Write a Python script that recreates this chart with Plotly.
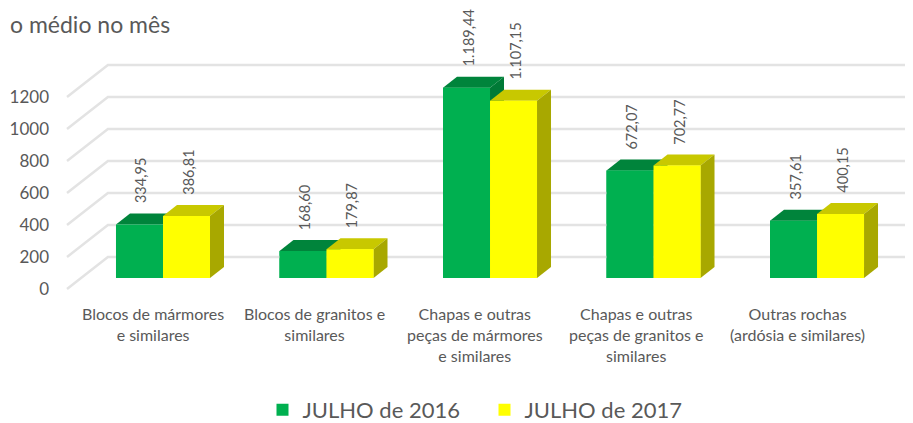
import plotly.graph_objects as go

# =============================================================================
# Data
# =============================================================================
categories = [
    "Blocos de mármores<br>e similares",
    "Blocos de granitos e<br>similares",
    "Chapas e outras<br>peças de mármores<br>e similares",
    "Chapas e outras<br>peças de granitos e<br>similares",
    "Outras rochas<br>(ardósia e similares)",
]
series_names = ["JULHO de 2016", "JULHO de 2017"]
jul_2016 = [334.95, 168.60, 1189.44, 672.07, 357.61]
jul_2017 = [386.81, 179.87, 1107.15, 702.77, 400.15]
y_ticks = [0, 200, 400, 600, 800, 1000, 1200]
title_text = "o médio no mês"

# =============================================================================
# Style / fake 3D geometry (in axis units)
# =============================================================================
BAR_W = 0.2875       # width of one bar
DEPTH_X = 0.0856     # bar depth, horizontal part
DEPTH_Y = 68.75      # bar depth, vertical part
FLOOR_FRONT = -68.75  # front edge of the floor, relative to bar base
WALL_X = 0.25        # floor depth, horizontal part
WALL_Y = 200.0       # floor depth, vertical part
FLOOR_LEFT = -0.587

colors = {
    "front": ["#00B050", "#FFFF00"],
    "top": ["#00843B", "#C8C800"],
    "side": ["#007A36", "#A8A800"],
}
txt = "#595959"
FONT = "Lato"


def fmt_br(v):
    s = f"{v:,.2f}"
    return s.replace(",", "X").replace(".", ",").replace("X", ".")


def poly(xs, ys, color):
    return go.Scatter(x=xs + [xs[0]], y=ys + [ys[0]], fill="toself", mode="lines",
                      line=dict(width=0, color=color), fillcolor=color,
                      showlegend=False, hoverinfo="skip")


fig = go.Figure()

# front faces as real bars (they also give the legend entries)
values = [jul_2016, jul_2017]
for s, vals in enumerate(values):
    fig.add_bar(x=list(range(len(categories))), y=vals, name=series_names[s],
                marker=dict(color=colors["front"][s], line=dict(width=0)))

# gridlines drawn in perspective: front edge -> back wall -> right
for v in y_ticks:
    fig.add_scatter(x=[FLOOR_LEFT, FLOOR_LEFT + WALL_X, 4.7],
                    y=[v + FLOOR_FRONT, v + FLOOR_FRONT + WALL_Y, v + FLOOR_FRONT + WALL_Y],
                    mode="lines", line=dict(color="#E3E3E3", width=2.5),
                    showlegend=False, hoverinfo="skip")

# faces of each box, back to front (front redrawn over the gridlines)
for i in range(len(categories)):
    for s, vals in enumerate(values):
        v = vals[i]
        xl = i - BAR_W + s * BAR_W
        xr = xl + BAR_W
        fig.add_trace(poly([xl, xl + DEPTH_X, xr + DEPTH_X, xr],
                           [v, v + DEPTH_Y, v + DEPTH_Y, v], colors["top"][s]))
        fig.add_trace(poly([xr, xr + DEPTH_X, xr + DEPTH_X, xr],
                           [0, DEPTH_Y, v + DEPTH_Y, v], colors["side"][s]))
        fig.add_trace(poly([xl, xr, xr, xl], [0, 0, v, v], colors["front"][s]))

# value labels
for s, vals in enumerate(values):
    for i, v in enumerate(vals):
        fig.add_annotation(x=i - BAR_W / 2 + s * BAR_W + 0.01, y=v, text=fmt_br(v),
                           textangle=-90, showarrow=False, yanchor="bottom", yshift=19,
                           font=dict(family=FONT, size=14.5, color=txt))

# category labels (shifted left a bit more towards the right: perspective)
for i, c in enumerate(categories):
    fig.add_annotation(x=i - 0.06 - 0.015 * i, y=0, yref="paper", text=c,
                       showarrow=False, yanchor="top", yshift=-2, align="center",
                       font=dict(family=FONT, size=16, color=txt))

# title
fig.add_annotation(x=-0.056, xref="paper", y=1.043, yref="paper", text=title_text,
                   showarrow=False, xanchor="left", yanchor="top",
                   font=dict(family=FONT, size=23, color=txt))

# the page body adds 8px around the figure, so the figure is 8px smaller
fig.update_layout(
    width=905, height=415,
    margin=dict(l=48, r=0, t=12, b=123, autoexpand=False),
    paper_bgcolor="white", plot_bgcolor="white",
    barmode="group", bargap=0.425, bargroupgap=0,
    showlegend=True,
    legend=dict(orientation="h", x=0.5, xanchor="center", y=-0.393, yanchor="middle",
                font=dict(family=FONT, size=22, color=txt), itemclick=False,
                entrywidth=177),
    xaxis=dict(range=[-0.6544, 4.587], showgrid=False, zeroline=False,
               showticklabels=False, fixedrange=True),
    yaxis=dict(range=[-137.5, 1612.5], showgrid=False, zeroline=False,
               tickvals=[v + FLOOR_FRONT for v in y_ticks],
               ticktext=[str(v) for v in y_ticks], ticklabelstandoff=6,
               tickfont=dict(family=FONT, size=17, color=txt), fixedrange=True),
    font=dict(family=FONT, color=txt),
)

fig.write_html("out.html")
